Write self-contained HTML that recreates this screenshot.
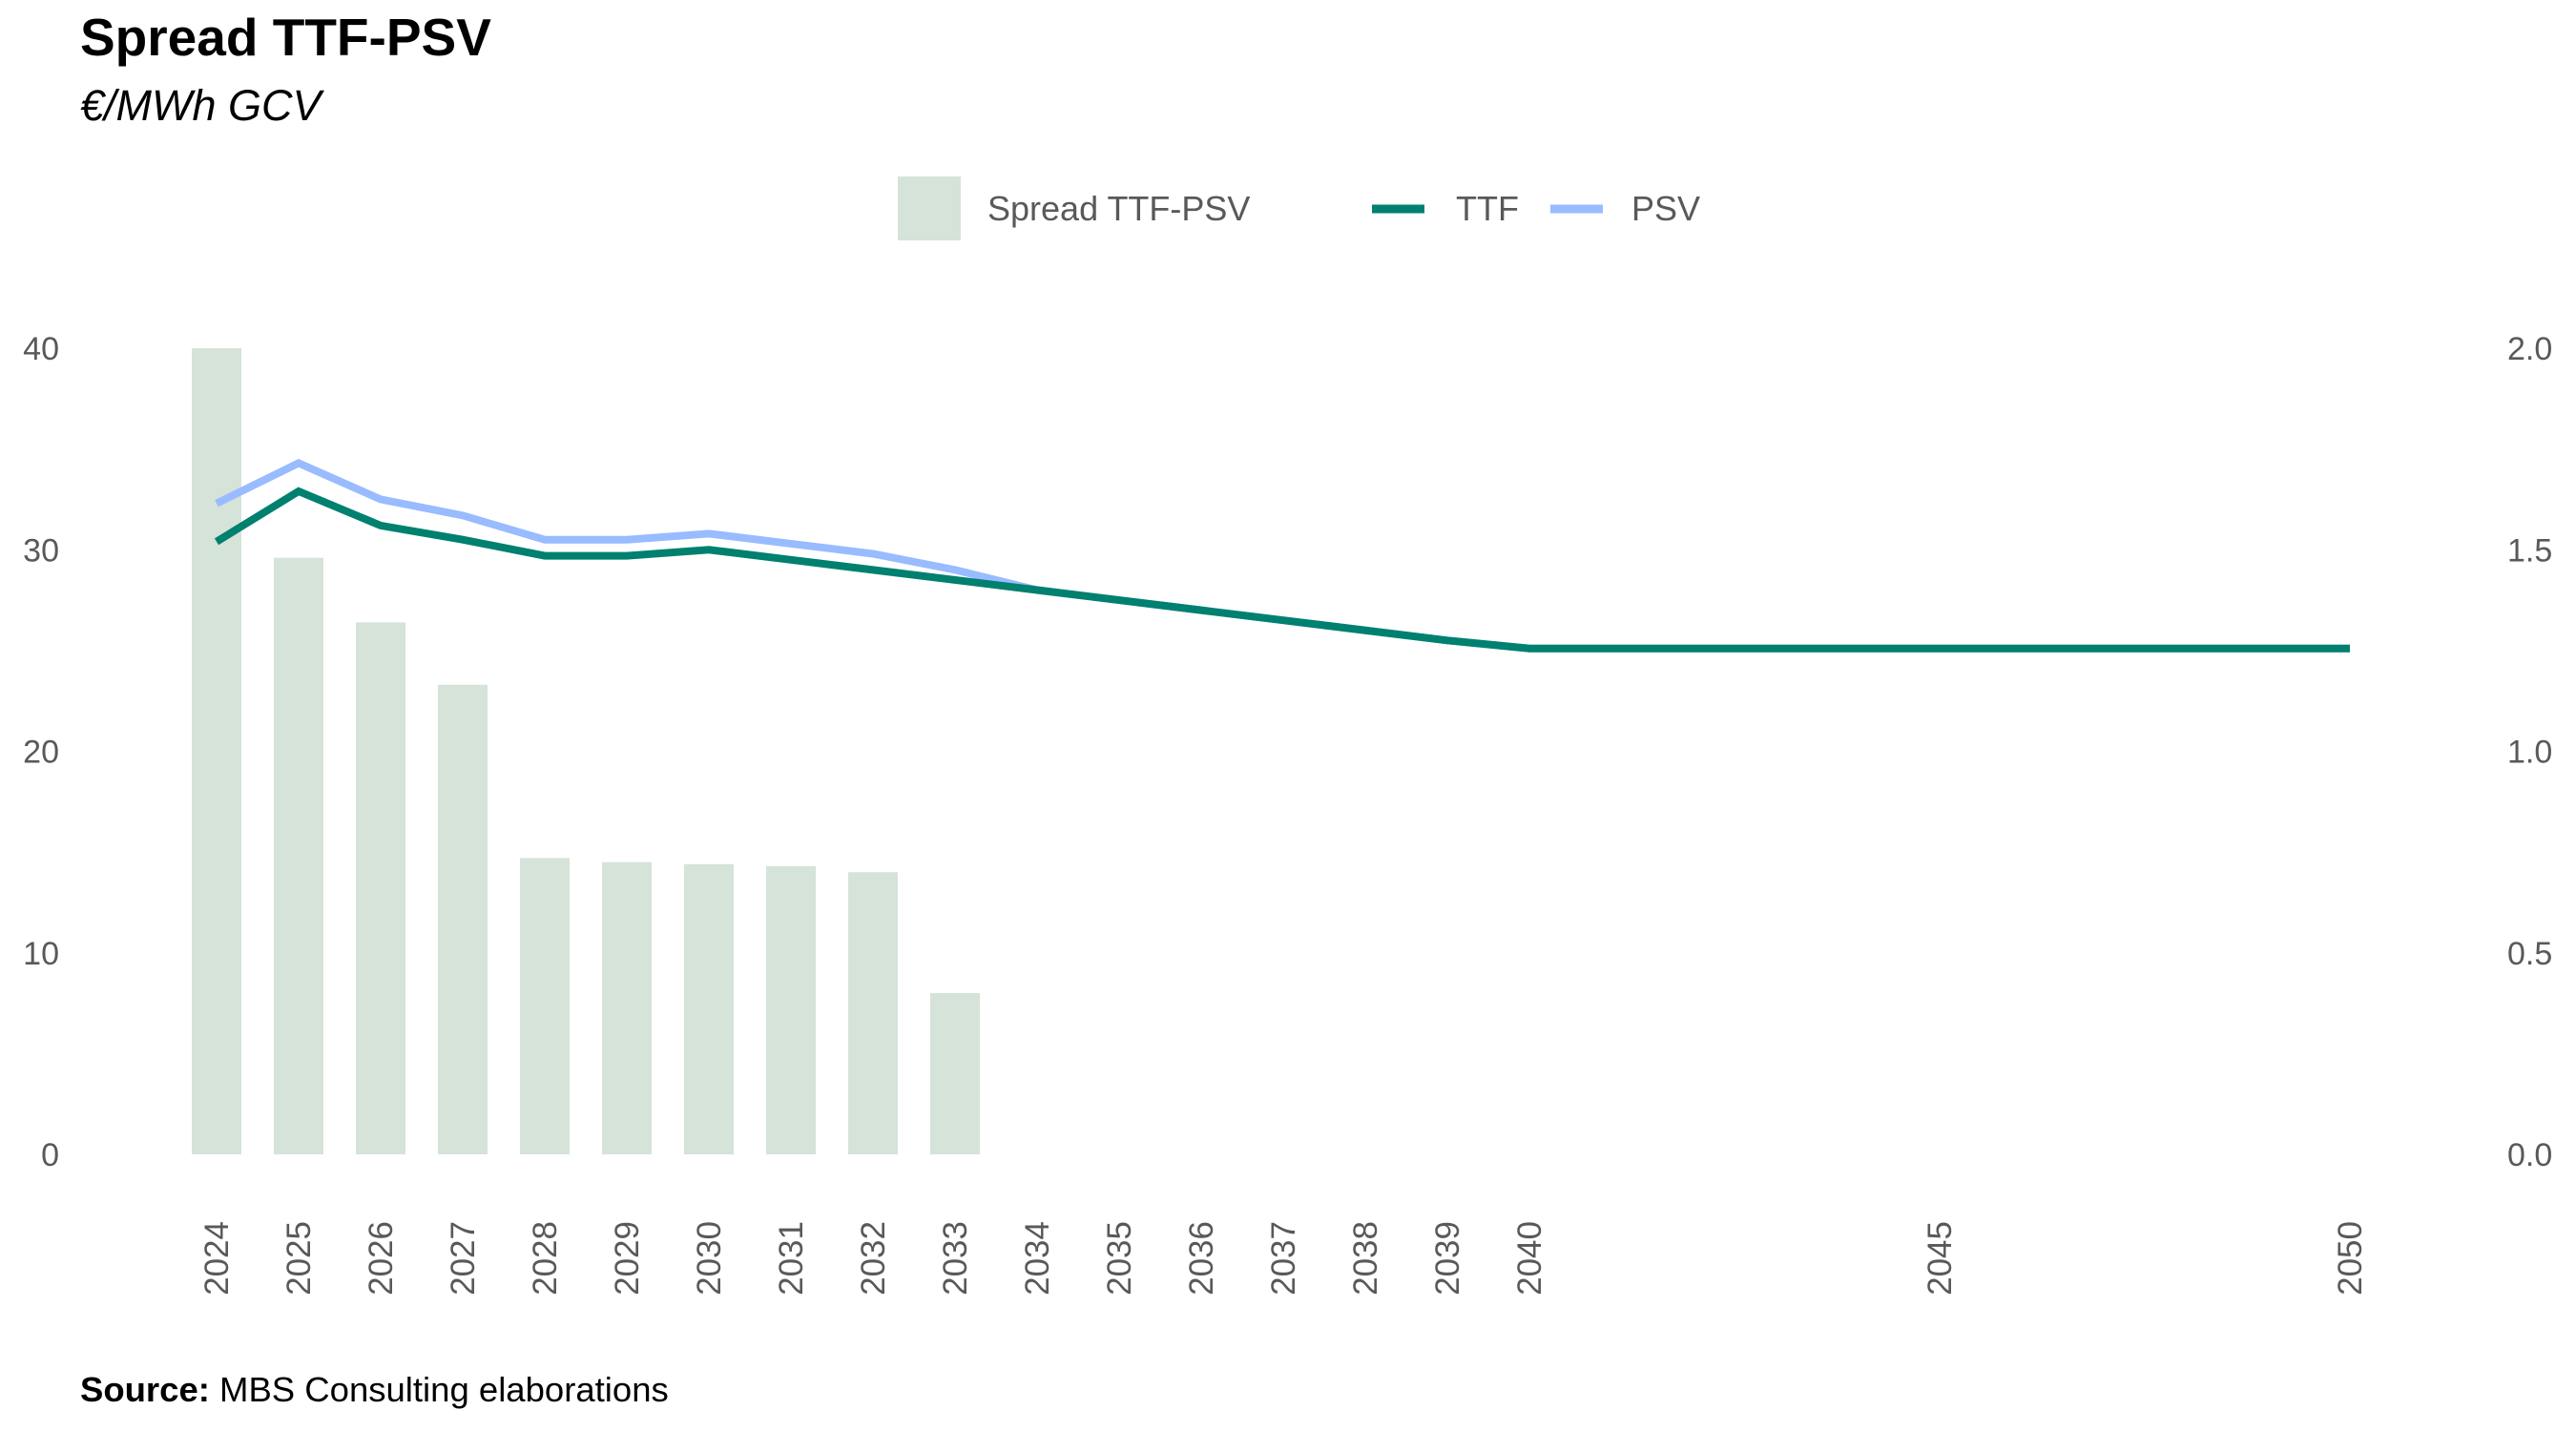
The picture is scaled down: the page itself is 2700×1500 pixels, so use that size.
<!DOCTYPE html>
<html><head><meta charset="utf-8"><style>
html,body{margin:0;padding:0;background:#fff;}
svg{display:block;font-family:"Liberation Sans",Arial,sans-serif;}
</style></head><body>
<svg id="chart" width="2700" height="1500" viewBox="0 0 2700 1500">
<text x="84" y="58" font-size="55" font-weight="bold" fill="#000">Spread TTF-PSV</text>
<text x="84" y="126" font-size="45" font-style="italic" fill="#000">€/MWh GCV</text>
<g>
<rect x="941" y="185" width="66" height="67" fill="#D5E3D9"/>
<text x="1035" y="231" font-size="36" fill="#595959">Spread TTF-PSV</text>
<line x1="1438" y1="219" x2="1493" y2="219" stroke="#00806F" stroke-width="9"/>
<text x="1526" y="231" font-size="36" fill="#595959">TTF</text>
<line x1="1625" y1="219" x2="1680" y2="219" stroke="#99BBFF" stroke-width="9"/>
<text x="1710" y="231" font-size="36" fill="#595959">PSV</text>
</g>
<g id="plot"></g>
<text x="84" y="1469" font-size="36.5" fill="#000"><tspan font-weight="bold">Source:</tspan> MBS Consulting elaborations</text>
</svg>
<script>
const barYears = [2024,2025,2026,2027,2028,2029,2030,2031,2032,2033];
const spreadValues = [2.0,1.48,1.32,1.165,0.735,0.725,0.72,0.715,0.70,0.40];
const lineYears = [2024,2025,2026,2027,2028,2029,2030,2031,2032,2033,2034,2035,2036,2037,2038,2039,2040,2045,2050];
const ttfValues = [30.4,32.9,31.2,30.5,29.7,29.7,30.0,29.5,29.0,28.5,28.0,27.5,27.0,26.5,26.0,25.5,25.1,25.1,25.1];
const psvValues = [32.3,34.3,32.5,31.7,30.5,30.5,30.8,30.3,29.8,29.0,28.0,27.5,27.0,26.5,26.0,25.5,25.1,25.1,25.1];
const leftTicks = [0,10,20,30,40];
const rightTicks = ["0.0","0.5","1.0","1.5","2.0"];
const xTicks = [2024,2025,2026,2027,2028,2029,2030,2031,2032,2033,2034,2035,2036,2037,2038,2039,2040,2045,2050];

const NS="http://www.w3.org/2000/svg";
const g=document.getElementById('plot');
const x=y=>227+(y-2024)*86.0;
const yL=v=>1210-v*(1210-365)/40;
const yR=v=>1210-v*(1210-365)/2;
function mk(t,a){const e=document.createElementNS(NS,t);for(const k in a)e.setAttribute(k,a[k]);g.appendChild(e);return e;}

leftTicks.forEach((v,i)=>{
  const t=mk('text',{x:62,y:yL(v)+12,'font-size':34,fill:'#595959','text-anchor':'end'});
  t.textContent=v;
  
  
  const r=mk('text',{x:2628,y:yL(v)+12,'font-size':34,fill:'#595959'});
  r.textContent=rightTicks[i];
  
  
});
xTicks.forEach(yr=>{
  const t=mk('text',{x:0,y:0,'font-size':35,fill:'#595959','text-anchor':'end',transform:`translate(${x(yr)+12},1280) rotate(-90)`});
  t.textContent=yr;
  
  
});
barYears.forEach((yr,i)=>{
  const top=yR(spreadValues[i]);
  const b=mk('rect',{x:x(yr)-26,y:top,width:52,height:1210-top,fill:'#D5E3D9'});
  
  
});
function line(vals,color,name){
  const p=mk('polyline',{points:lineYears.map((yr,i)=>x(yr)+','+yL(vals[i])).join(' '),fill:'none',stroke:color,'stroke-width':8,'stroke-linejoin':'miter'});
  
  
}
line(psvValues,'#99BBFF','line-psv');
line(ttfValues,'#00806F','line-ttf');
</script>
</body></html>
